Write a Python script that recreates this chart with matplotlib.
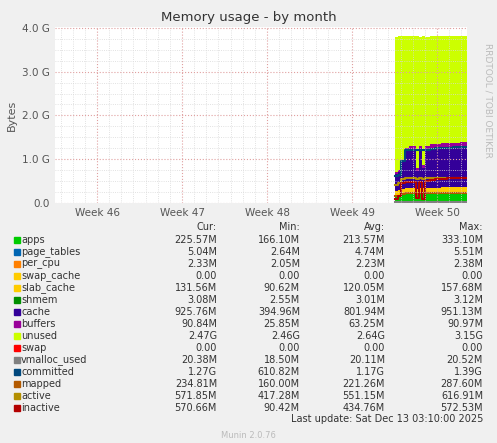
import numpy as np
import matplotlib.pyplot as plt

# time in days since the Week 46 tick
t = [24.5, 24.75, 25.0, 25.35, 25.7, 26.0, 26.3, 26.55, 26.8, 27.05, 27.4, 27.8, 28.3, 28.8, 29.3, 29.9, 30.45]

apps = [0.17, 0.18, 0.20, 0.21, 0.21, 0.22, 0.20, 0.22, 0.21, 0.22, 0.22, 0.22, 0.22, 0.23, 0.22, 0.23, 0.23]
page_tables = [0.004] * 17
per_cpu = [0.002] * 17
swap_cache = [0.0] * 17
slab_cache = [0.09, 0.10, 0.12, 0.12, 0.12, 0.12, 0.12, 0.12, 0.12, 0.12, 0.12, 0.12, 0.13, 0.13, 0.13, 0.13, 0.13]
shmem = [0.003] * 17
cache = [0.40, 0.42, 0.60, 0.85, 0.88, 0.88, 0.40, 0.88, 0.45, 0.88, 0.90, 0.90, 0.92, 0.92, 0.93, 0.93, 0.93]
buffers = [0.03, 0.04, 0.06, 0.07, 0.08, 0.08, 0.08, 0.08, 0.08, 0.08, 0.09, 0.09, 0.09, 0.09, 0.09, 0.09, 0.09]
unused = [3.10, 3.06, 2.82, 2.55, 2.51, 2.50, 3.00, 2.49, 2.94, 2.49, 2.47, 2.47, 2.44, 2.43, 2.43, 2.42, 2.42]
swap = [0.0] * 17

vmalloc_used = [0.019, 0.019, 0.020, 0.020, 0.020, 0.020, 0.020, 0.020, 0.020, 0.020, 0.020, 0.020, 0.020, 0.020, 0.020, 0.020, 0.020]
committed = [0.62, 0.65, 0.95, 1.20, 1.22, 1.22, 1.22, 1.22, 1.20, 1.22, 1.24, 1.25, 1.26, 1.26, 1.27, 1.27, 1.27]
mapped = [0.16, 0.17, 0.20, 0.22, 0.22, 0.22, 0.21, 0.22, 0.22, 0.22, 0.22, 0.23, 0.23, 0.23, 0.23, 0.23, 0.23]
active = [0.42, 0.45, 0.55, 0.56, 0.56, 0.56, 0.55, 0.56, 0.55, 0.56, 0.56, 0.57, 0.57, 0.57, 0.57, 0.57, 0.57]
inactive = [0.10, 0.15, 0.45, 0.48, 0.48, 0.48, 0.12, 0.48, 0.10, 0.50, 0.52, 0.54, 0.55, 0.56, 0.57, 0.57, 0.57]

names = ['apps', 'page_tables', 'per_cpu', 'swap_cache', 'slab_cache', 'shmem', 'cache',
         'buffers', 'unused', 'swap', 'vmalloc_used', 'committed', 'mapped', 'active', 'inactive']
colors = ['#00CC00', '#0066B3', '#FF8000', '#FFCC00', '#FFCC00', '#008F00', '#330099',
          '#990099', '#CCFF00', '#FF0000', '#808080', '#00487D', '#B35A00', '#B38F00', '#B30000']
cur = ['225.57M', '5.04M', '2.33M', '0.00', '131.56M', '3.08M', '925.76M', '90.84M', '2.47G',
       '0.00', '20.38M', '1.27G', '234.81M', '571.85M', '570.66M']
mins = ['166.10M', '2.64M', '2.05M', '0.00', '90.62M', '2.55M', '394.96M', '25.85M', '2.46G',
        '0.00', '18.50M', '610.82M', '160.00M', '417.28M', '90.42M']
avgs = ['213.57M', '4.74M', '2.23M', '0.00', '120.05M', '3.01M', '801.94M', '63.25M', '2.64G',
        '0.00', '20.11M', '1.17G', '221.26M', '551.15M', '434.76M']
maxs = ['333.10M', '5.51M', '2.38M', '0.00', '157.68M', '3.12M', '951.13M', '90.97M', '3.15G',
        '0.00', '20.52M', '1.39G', '287.60M', '616.91M', '572.53M']

week_pos = [0, 7, 14, 21, 28]
week_labels = ['Week 46', 'Week 47', 'Week 48', 'Week 49', 'Week 50']

W, H = 497, 443
fig = plt.figure(figsize=(W / 100, H / 100), dpi=100, facecolor='#F0F0F0')
ax = fig.add_axes([55 / W, 1 - 203 / H, 412 / W, 176 / H])
ax.set_facecolor('white')

stack = [apps, page_tables, per_cpu, swap_cache, slab_cache, shmem, cache, buffers, unused, swap]
ax.stackplot(t, *stack, colors=colors[:10], step='post', linewidth=0)
lines = [vmalloc_used, committed, mapped, active, inactive]
for y, c in zip(lines, colors[10:]):
    ax.step(t, y, where='post', color=c, lw=1.5)

ax.set_xlim(-3.46, 30.47)
ax.set_ylim(0, 4.02)
ax.set_xticks(week_pos)
ax.set_xticklabels(week_labels)
ax.set_xticks(np.arange(-3, 30.5, 1), minor=True)
ax.set_yticks([0, 1, 2, 3, 4])
ax.set_yticklabels(['0.0', '1.0 G', '2.0 G', '3.0 G', '4.0 G'])
ax.set_yticks(np.arange(0, 4.01, 0.25), minor=True)
ax.grid(which='major', color='#E0A0A0', ls=':', lw=0.8)
ax.grid(which='minor', color='#D8D8D8', ls=':', lw=0.6)
ax.set_axisbelow(False)
for s in ax.spines.values():
    s.set_visible(False)
ax.tick_params(which='both', length=0, labelsize=7.5, colors='#555555')
ax.set_ylabel('Bytes', fontsize=8, color='#555555')

fig.text(0.5, 1 - 18 / H, 'Memory usage - by month', ha='center', va='center', fontsize=9.5, color='#333333')
fig.text(488 / W, 1 - 100 / H, 'RRDTOOL / TOBI OETIKER', rotation=270, ha='center', va='center',
         fontsize=6.5, color='#BBBBBB')

fs = 7
col_x = [217, 300, 385, 483]
for x, h in zip(col_x, ['Cur:', 'Min:', 'Avg:', 'Max:']):
    fig.text(x / W, 1 - 227 / H, h, ha='right', va='center', fontsize=fs, color='#333333')
for i, n in enumerate(names):
    y = 1 - (240 + 12 * i) / H
    fig.patches.append(plt.Rectangle((14 / W, y - 3 / H), 6 / W, 6 / H, color=colors[i],
                                     transform=fig.transFigure, figure=fig))
    fig.text(21 / W, y, n, ha='left', va='center', fontsize=fs, color='#333333')
    for x, v in zip(col_x, [cur[i], mins[i], avgs[i], maxs[i]]):
        fig.text(x / W, y, v, ha='right', va='center', fontsize=fs, color='#333333')
fig.text(483 / W, 1 - 419 / H, 'Last update: Sat Dec 13 03:10:00 2025', ha='right', va='center',
         fontsize=fs, color='#333333')
fig.text(0.5, 1 - 436 / H, 'Munin 2.0.76', ha='center', va='center', fontsize=6, color='#BBBBBB')

fig.savefig('out.png', dpi=100, facecolor=fig.get_facecolor())
